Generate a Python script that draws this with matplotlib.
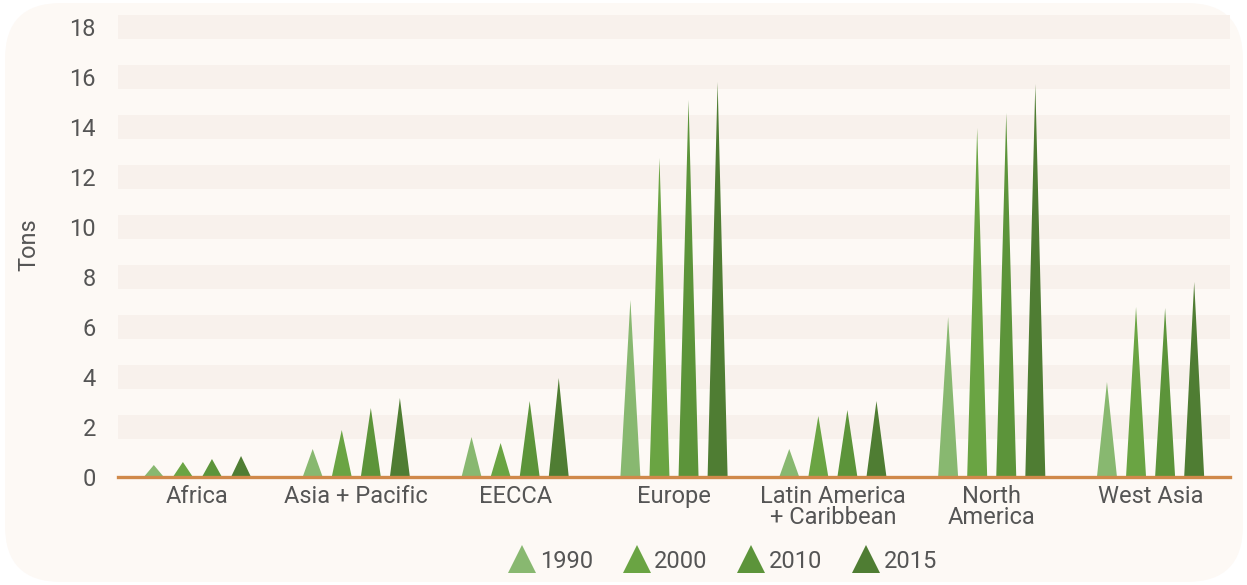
import matplotlib.pyplot as plt
import numpy as np
from matplotlib.patches import FancyBboxPatch
from matplotlib.lines import Line2D

plt.rcParams['font.family'] = ['Roboto', 'DejaVu Sans']

regions = ['Africa', 'Asia + Pacific', 'EECCA', 'Europe',
           'Latin America\n+ Caribbean', 'North\nAmerica', 'West Asia']
years = ['1990', '2000', '2010', '2015']
v1990 = [0.48, 1.12, 1.60, 7.08, 1.12, 6.40, 3.80]
v2000 = [0.60, 1.88, 1.36, 12.76, 2.44, 13.96, 6.80]
v2010 = [0.72, 2.76, 3.04, 15.08, 2.68, 14.56, 6.76]
v2015 = [0.84, 3.16, 3.96, 15.80, 3.04, 15.72, 7.80]
series = [v1990, v2000, v2010, v2015]
colors = ['#88B870', '#6AA443', '#5C943A', '#4F7D33']
yticks = [0, 2, 4, 6, 8, 10, 12, 14, 16, 18]

text_col = '#555555'
bg = '#FDF9F5'
band = '#F8F1EC'

fig = plt.figure(figsize=(12.47, 5.85), dpi=100)
fig.patch.set_facecolor('white')
fig.patches.append(FancyBboxPatch((5 / 1247, 3 / 585), 1238 / 1247, 579 / 585,
                                  boxstyle='round,pad=0,rounding_size=0.045',
                                  transform=fig.transFigure, facecolor=bg,
                                  edgecolor='none', zorder=-5,
                                  mutation_aspect=1247 / 585))

ax = fig.add_axes([118 / 1247, (585 - 477) / 585, 1112 / 1247, 465 / 585])
ax.set_facecolor('none')
ax.set_xlim(-0.5, len(regions) - 0.5)
ax.set_ylim(0, 18.6)

for v in yticks[1:]:
    ax.axhspan(v - 0.48, v + 0.48, color=band, lw=0, zorder=0)

step = 0.183
half = 0.063
x = np.arange(len(regions))
for j, vals in enumerate(series):
    off = (j - 1.5) * step
    for xi, h in zip(x, vals):
        cx = xi + off
        ax.fill([cx - half, cx, cx + half], [0, h, 0], color=colors[j],
                lw=0, zorder=2)

ax.axhline(0, color='#D0894A', lw=2.4, zorder=3, clip_on=False)

for s in ax.spines.values():
    s.set_visible(False)
ax.set_yticks(yticks)
ax.set_yticklabels([str(t) for t in yticks])
ax.set_xticks(x)
ax.set_xticklabels(regions, linespacing=0.85)
ax.tick_params(length=0, labelsize=17, colors=text_col)
ax.tick_params(axis='y', pad=16)
ax.tick_params(axis='x', pad=6)
ax.set_ylabel('Tons', fontsize=17, color=text_col, labelpad=21)

handles = [Line2D([], [], marker='^', ls='none', color=c, markersize=20,
                  markeredgewidth=0) for c in colors]
fig.legend(handles, years, loc='center', bbox_to_anchor=(722 / 1247, 1 - 561 / 585),
           ncol=4, frameon=False, fontsize=17, labelcolor=text_col,
           handletextpad=0.1, columnspacing=1.2, handlelength=1.3)

fig.savefig('out.png', dpi=100)
